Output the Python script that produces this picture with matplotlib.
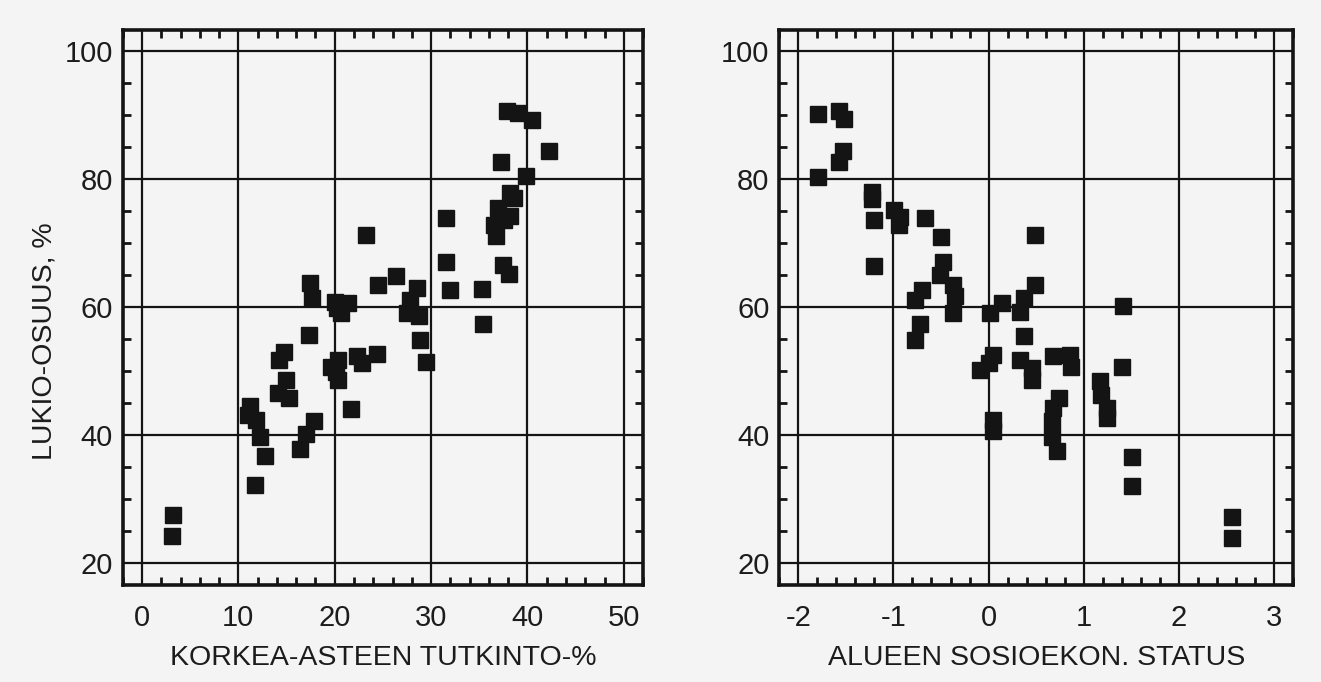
import matplotlib
matplotlib.use("Agg")
import matplotlib.pyplot as plt
from matplotlib.ticker import MultipleLocator

plt.rcParams['font.family'] = ['Liberation Sans', 'DejaVu Sans']
plt.rcParams['axes.unicode_minus'] = False
TICK_FS, LABEL_FS = 21, 20.5

# Left panel: higher-education degree share (%) vs upper-secondary (lukio) share (%)
edu_x = [3.2, 3.1, 11.7, 12.8, 12.2, 11.2, 11.0, 11.8, 16.4, 17.0, 17.9,
         14.1, 15.3, 14.9, 14.2, 14.7, 17.3, 17.4, 17.6,
         20.3, 19.6, 20.1, 20.3, 22.3, 22.8, 24.4, 21.7,
         20.2, 21.4, 20.7, 20.0, 23.2, 24.5, 26.4, 28.5, 27.8, 27.5, 28.7,
         28.8, 29.5, 31.6, 31.5, 32.0, 35.3, 35.4, 37.5, 38.1,
         36.9, 38.2, 37.6, 36.5, 36.7, 38.2, 38.6, 37.3, 39.8, 42.2,
         37.9, 39.0, 40.5]
edu_y = [27.6, 24.3, 32.3, 36.8, 39.7, 44.5, 43.1, 42.4, 37.8, 40.2, 42.3,
         46.6, 45.8, 48.7, 51.8, 53.0, 55.6, 63.8, 61.5,
         51.8, 50.7, 49.9, 48.7, 52.4, 51.3, 52.7, 44.1,
         59.9, 60.6, 59.1, 60.8, 71.3, 63.5, 64.8, 63.0, 61.2, 59.1, 58.6,
         54.9, 51.5, 74.0, 67.0, 62.7, 62.8, 57.3, 66.6, 65.2,
         75.5, 74.3, 73.6, 72.9, 71.1, 77.9, 77.1, 82.7, 80.5, 84.4,
         90.7, 90.3, 89.3]

# Right panel: socio-economic status of the area vs lukio share (%)
ses_x = [-1.79, -1.57, -1.52, -1.53, -1.57, -1.79, -1.22, -1.22, -1.20, -1.20,
         -0.99, -0.93, -0.94, -0.67, -0.50, -0.48, -0.51, -0.37, -0.35, -0.70,
         -0.77, -0.37, 0.49, 0.49, 0.37, 0.14, 0.02, 0.33, 1.41, -0.72,
         -0.77, 0.37, 0.05, -0.09, 0.00, 0.33, 0.46, 0.46, 0.68, 0.86,
         0.87, 1.40, 1.17, 1.18, 1.24, 1.24, 0.74, 0.68, 0.67, 0.67,
         0.72, 0.05, 0.05, 1.51, 1.51, 2.56, 2.56]
ses_y = [90.2, 90.7, 89.4, 84.4, 82.7, 80.4, 78.0, 76.9, 73.6, 66.5,
         75.2, 74.1, 72.9, 74.0, 70.9, 67.0, 65.1, 63.5, 61.7, 62.7,
         61.2, 59.1, 71.3, 63.5, 61.4, 60.6, 59.1, 59.3, 60.2, 57.3,
         54.9, 55.5, 52.6, 50.2, 51.3, 51.8, 50.5, 48.7, 52.4, 52.6,
         50.7, 50.7, 48.4, 46.3, 44.3, 42.7, 45.8, 44.3, 42.2, 39.8,
         37.6, 42.4, 40.6, 36.6, 32.1, 27.3, 24.0]

y_ticks = [20, 40, 60, 80, 100]
left_xticks = [0, 10, 20, 30, 40, 50]
right_xticks = [-2, -1, 0, 1, 2, 3]
left_xlabel = "KORKEA-ASTEEN TUTKINTO-%"
right_xlabel = "ALUEEN SOSIOEKON. STATUS"
ylabel = "LUKIO-OSUUS, %"

BG = '#f4f4f4'
INK = '#141414'
TXT = '#1c1c1c'

fig = plt.figure(figsize=(13.21, 6.82), dpi=100, facecolor=BG)
ax1 = fig.add_axes([0.0929, 0.1422, 0.3939, 0.8138])
ax2 = fig.add_axes([0.5899, 0.1422, 0.3889, 0.8138])

def style(ax, xticks, xlim, xminor):
    ax.set_facecolor(BG)
    ax.set_xlim(*xlim)
    ax.set_ylim(16.6, 103.3)
    ax.set_xticks(xticks)
    ax.set_yticks(y_ticks)
    ax.xaxis.set_minor_locator(MultipleLocator(xminor))
    ax.yaxis.set_minor_locator(MultipleLocator(5))
    ax.grid(True, which='major', color=INK, linewidth=1.6)
    ax.set_axisbelow(True)
    ax.tick_params(which='both', direction='in', top=True, right=True,
                   colors=INK, labelsize=TICK_FS, width=2.0)
    ax.tick_params(which='major', length=0)
    ax.tick_params(axis='y', which='major', pad=7)
    ax.tick_params(axis='x', which='major', pad=14)
    ax.tick_params(which='minor', length=6)
    for s in ax.spines.values():
        s.set_linewidth(2.6)
        s.set_color(INK)
    for lab in ax.get_xticklabels() + ax.get_yticklabels():
        lab.set_color(TXT)

style(ax1, left_xticks, (-2, 52), 2)
style(ax2, right_xticks, (-2.2, 3.2), 0.2)

ax1.plot(edu_x, edu_y, 's', color=INK, markersize=11, linestyle='none', zorder=3)
ax2.plot(ses_x, ses_y, 's', color=INK, markersize=11, linestyle='none', zorder=3)

ax1.set_xlabel(left_xlabel, fontsize=LABEL_FS, color=TXT, labelpad=9)
ax2.set_xlabel(right_xlabel, fontsize=LABEL_FS, color=TXT, labelpad=9)
ax1.set_ylabel(ylabel, fontsize=LABEL_FS, color=TXT)
ax1.yaxis.set_label_coords(-0.126, 0.44)

fig.savefig('out.png', dpi=100, facecolor=BG)
